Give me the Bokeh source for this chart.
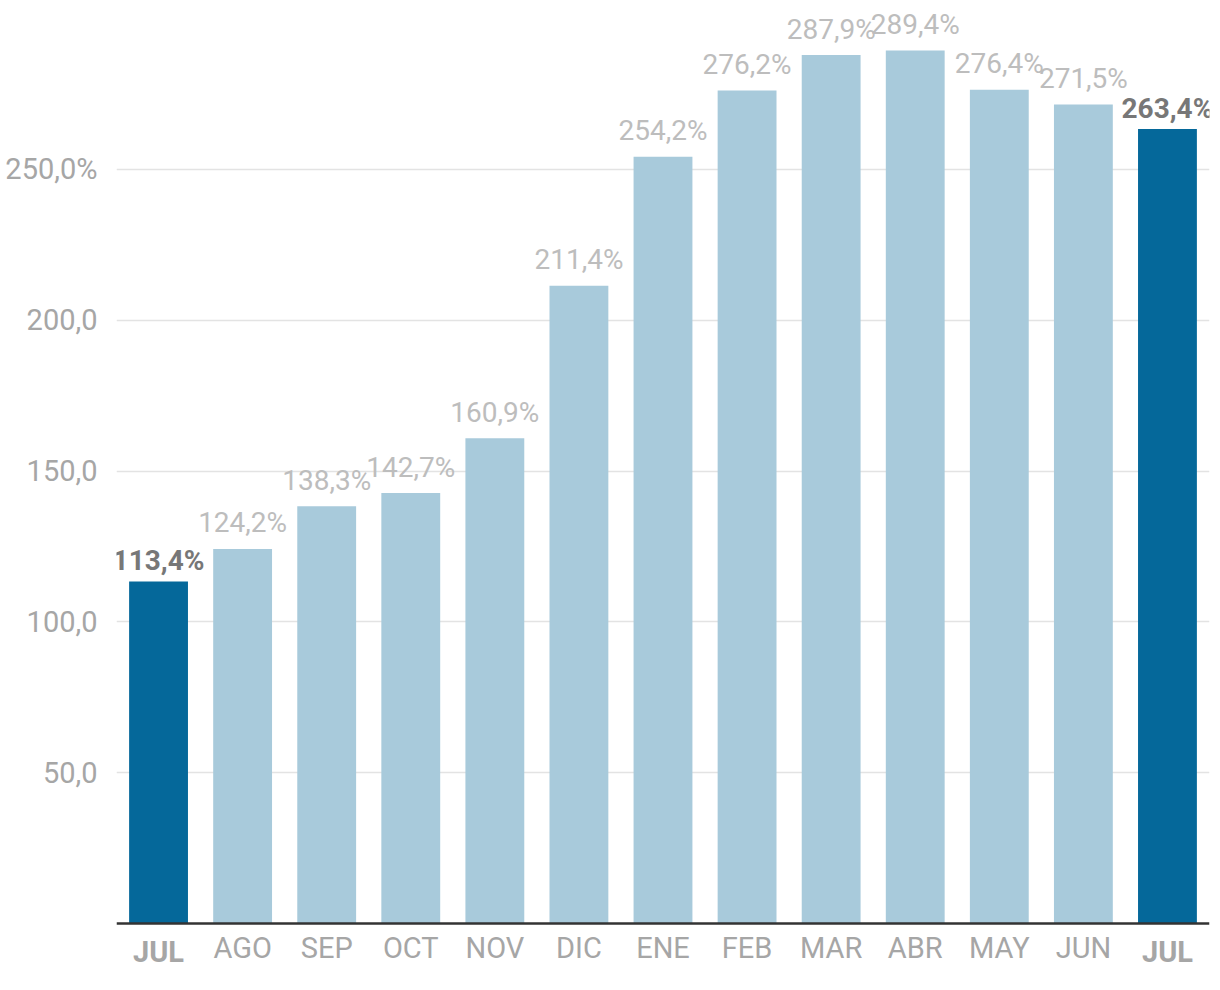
from bokeh.plotting import figure
from bokeh.models import ColumnDataSource, Range1d, FixedTicker, Span
from bokeh.core.properties import value
from bokeh.embed import file_html
from bokeh.resources import INLINE

months = ["JUL", "AGO", "SEP", "OCT", "NOV", "DIC", "ENE", "FEB", "MAR", "ABR", "MAY", "JUN", "JUL"]
values = [113.4, 124.2, 138.3, 142.7, 160.9, 211.4, 254.2, 276.2, 287.9, 289.4, 276.4, 271.5, 263.4]
y_ticks = [50, 100, 150, 200, 250]
y_tick_labels = ["50,0", "100,0", "150,0", "200,0", "250,0%"]

FONT = "Roboto"
n = len(values)
xs = list(range(n))
highlight = [i == 0 or i == n - 1 for i in xs]
labels = [("%.1f" % v).replace(".", ",") + "%" for v in values]

dark = "#05689a"
light = "#a8cadb"

def src(mask):
    idx = [i for i in xs if mask(i)]
    return ColumnDataSource(dict(
        x=[xs[i] for i in idx],
        top=[values[i] for i in idx],
        label=[labels[i] for i in idx],
        month=[months[i] for i in idx],
        zero=[0] * len(idx),
    ))

src_hi = src(lambda i: highlight[i])
src_lo = src(lambda i: not highlight[i])

p = figure(width=1220, height=990, output_backend="svg", toolbar_location=None,
           x_range=Range1d(-0.5, n - 0.5), y_range=Range1d(-22.2, 306.0),
           min_border_left=116, min_border_right=11, min_border_top=0, min_border_bottom=0)
p.outline_line_color = None
p.background_fill_color = "white"
p.border_fill_color = "white"

p.xaxis.visible = False
p.xgrid.grid_line_color = None

p.yaxis.ticker = FixedTicker(ticks=y_ticks)
p.yaxis.major_label_overrides = {t: l for t, l in zip(y_ticks, y_tick_labels)}
p.yaxis.axis_line_color = None
p.yaxis.major_tick_line_color = None
p.yaxis.minor_tick_line_color = None
p.yaxis.major_label_standoff = 13
p.yaxis.major_label_text_font = FONT
p.yaxis.major_label_text_font_size = "29px"
p.yaxis.major_label_text_color = "#a6a6a6"
p.ygrid.ticker = FixedTicker(ticks=y_ticks)
p.ygrid.grid_line_color = "#e3e3e3"
p.ygrid.grid_line_width = 1.5

p.vbar(x="x", top="top", bottom=0, width=0.70, source=src_lo, color=light, line_color=None)
p.vbar(x="x", top="top", bottom=0, width=0.70, source=src_hi, color=dark, line_color=None)

p.add_layout(Span(location=0, dimension="width", line_color="#333333", line_width=2.5))

# value labels
p.text(x="x", y="top", text="label", source=src_lo, text_align="center", text_baseline="alphabetic",
       y_offset=-26, text_font=value(FONT), text_font_size="28px", text_color="#bdbdbd")
p.text(x="x", y="top", text="label", source=src_hi, text_align="center", text_baseline="alphabetic",
       y_offset=-21, text_font=value(FONT), text_font_size="28px", text_font_style="bold",
       text_color="#777777")

# month labels
p.text(x="x", y="zero", text="month", source=src_lo, text_align="center", text_baseline="alphabetic",
       y_offset=24, text_font=value(FONT), text_font_size="29px", text_color="#a6a6a6")
p.text(x="x", y="zero", text="month", source=src_hi, text_align="center", text_baseline="alphabetic",
       y_offset=28, text_font=value(FONT), text_font_size="29px", text_font_style="bold",
       text_color="#a6a6a6")

open("out.html", "w").write(file_html(p, INLINE))
